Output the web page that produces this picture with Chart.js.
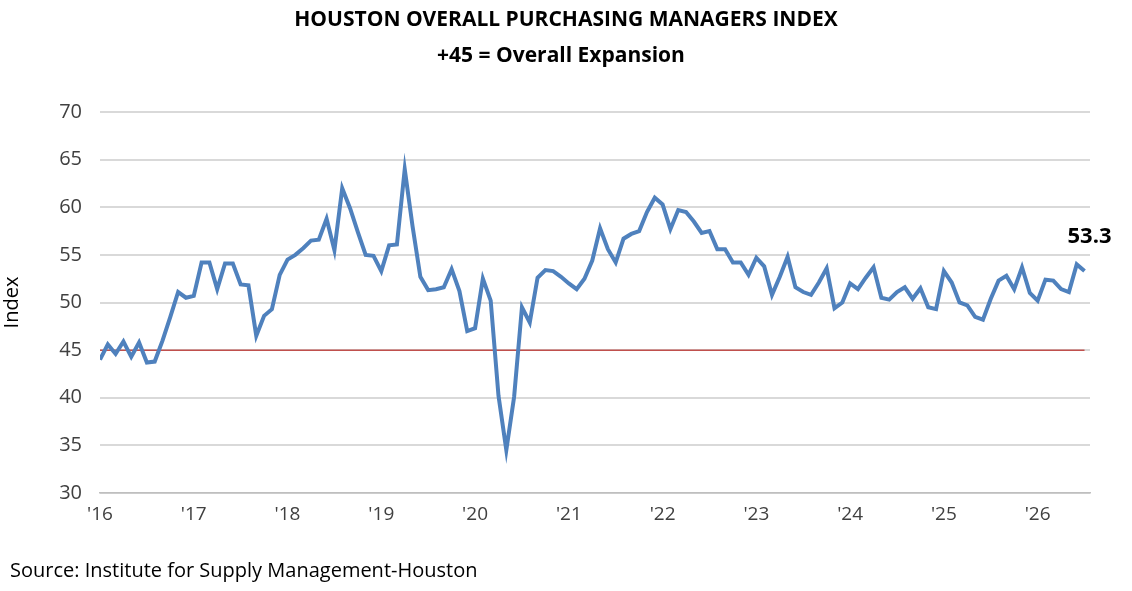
<!DOCTYPE html>
<html>
<head>
<meta charset="utf-8">
<script src="https://cdn.jsdelivr.net/npm/chart.js@4"></script>
<style>
  body { margin: 0; background: #fff; }
</style>
</head>
<body>
<canvas id="myChart" width="1132" height="591"></canvas>
<script>
// monthly index, Jan '16 onwards
const pmi = [
  44.0, 45.6, 44.6, 45.9, 44.3, 45.8, 43.7, 43.8, 46.0, 48.5, 51.1, 50.5,
  50.7, 54.2, 54.2, 51.4, 54.1, 54.1, 51.9, 51.8, 46.5, 48.6, 49.3, 52.9,
  54.5, 55.0, 55.7, 56.5, 56.6, 58.8, 55.5, 62.0, 59.9, 57.4, 55.0, 54.9,
  53.3, 56.0, 56.1, 64.0, 58.0, 52.7, 51.3, 51.4, 51.6, 53.5, 51.2, 47.0,
  47.3, 52.5, 50.2, 40.2, 34.5, 40.1, 49.5, 47.9, 52.6, 53.4, 53.3, 52.7,
  52.0, 51.4, 52.5, 54.4, 57.8, 55.6, 54.2, 56.7, 57.2, 57.5, 59.5, 61.0,
  60.3, 57.7, 59.7, 59.5, 58.5, 57.3, 57.5, 55.6, 55.6, 54.2, 54.2, 52.9,
  54.7, 53.8, 50.8, 52.7, 54.8, 51.6, 51.1, 50.8, 52.1, 53.6, 49.4, 50.0,
  52.0, 51.4, 52.6, 53.7, 50.5, 50.3, 51.1, 51.6, 50.4, 51.5, 49.5, 49.3,
  53.3, 52.1, 50.0, 49.7, 48.5, 48.2, 50.4, 52.3, 52.8, 51.4, 53.7,
  51.0, 50.2, 52.4, 52.3, 51.4, 51.1, 54.0, 53.3
];
const yearLabels = ["'16","'17","'18","'19","'20","'21","'22","'23","'24","'25","'26"];
const expansionLine = 45;

const points = pmi.map((v, i) => ({x: i, y: v}));
const ctx = document.getElementById('myChart');
const FONT = "'Open Sans', 'Liberation Sans', sans-serif";

// titles, source and last value label
const extras = {
  id: 'extras',
  afterDraw(chart) {
    const c = chart.ctx;
    c.save();
    c.fillStyle = '#000';
    c.textAlign = 'center';
    c.font = 'bold 21px ' + FONT;
    c.fillText('HOUSTON OVERALL PURCHASING MANAGERS INDEX', 566, 26);
    c.fillText('+45 = Overall Expansion', 561, 62);
    c.textAlign = 'left';
    c.font = '20px ' + FONT;
    c.fillText('Source: Institute for Supply Management-Houston', 10, 577);
    const meta = chart.getDatasetMeta(0);
    const last = meta.data[meta.data.length - 1];
    c.textAlign = 'center';
    c.font = 'bold 22px ' + FONT;
    c.fillText(pmi[pmi.length - 1].toFixed(1), last.x + 5, last.y - 28);
    c.restore();
  }
};

new Chart(ctx, {
  type: 'line',
  data: {
    datasets: [{
      data: points,
      borderColor: '#4f81bd',
      borderWidth: 4,
      pointRadius: 0,
      tension: 0
    }, {
      data: [{x: 0, y: expansionLine}, {x: pmi.length - 1, y: expansionLine}],
      borderColor: '#c0504d',
      borderWidth: 1.5,
      pointRadius: 0
    }]
  },
  options: {
    responsive: false,
    animation: false,
    devicePixelRatio: 1,
    layout: { padding: { top: 112, right: 42, bottom: 58, left: 0 } },
    plugins: { legend: { display: false }, tooltip: { enabled: false } },
    scales: {
      x: {
        type: 'linear',
        min: 0, max: 126.7,
        afterFit(s) { s.height = 40; },
        afterBuildTicks(s) { s.ticks = yearLabels.map((_, i) => ({value: i * 12})); },
        grid: { display: false, drawTicks: true, tickLength: 8, color: '#bfbfbf' },
        border: { color: '#bfbfbf', width: 1.5 },
        ticks: {
          color: '#404040', font: { size: 19, family: FONT }, padding: 2, maxRotation: 0,
          callback: (v) => yearLabels[v / 12]
        }
      },
      y: {
        min: 30, max: 70,
        afterFit(s) { s.width = 100; },
        grid: { color: '#d9d9d9', lineWidth: 2, drawTicks: false },
        border: { display: false },
        ticks: { stepSize: 5, color: '#404040', font: { size: 20, family: FONT }, padding: 18 },
        title: { display: true, text: 'Index', color: '#000', font: { size: 20, family: FONT }, padding: 0 }
      }
    }
  },
  plugins: [extras]
});
</script>
</body>
</html>
